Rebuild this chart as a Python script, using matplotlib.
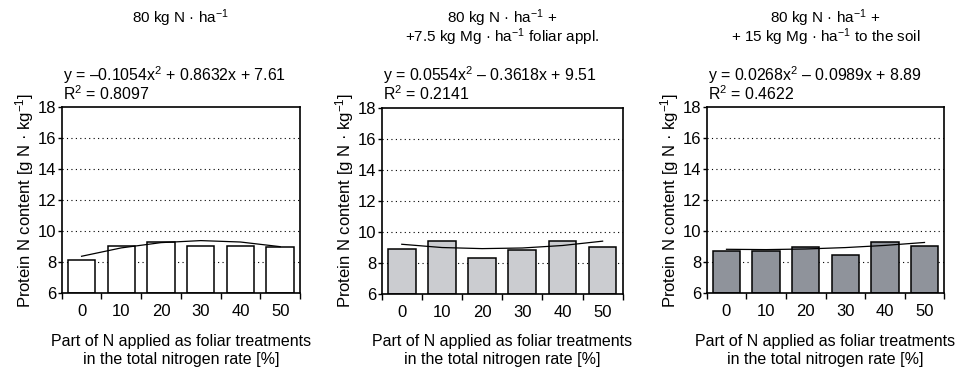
import matplotlib
matplotlib.use('Agg')
import matplotlib.pyplot as plt

plt.rcParams['font.family'] = ['Liberation Sans', 'DejaVu Sans']
plt.rcParams['font.size'] = 11
plt.rcParams['mathtext.fontset'] = 'custom'
plt.rcParams['mathtext.rm'] = 'Liberation Sans'
plt.rcParams['mathtext.it'] = 'Liberation Sans:italic'
plt.rcParams['mathtext.default'] = 'regular'

foliar_share = ['0', '10', '20', '30', '40', '50']

# bar heights
protein_n_only = [8.13, 9.05, 9.31, 9.03, 9.03, 8.94]
protein_mg_foliar = [8.92, 9.40, 8.34, 8.82, 9.40, 9.03]
protein_mg_soil = [8.71, 8.71, 8.94, 8.45, 9.31, 9.05]

# polynomial trend lines (values at each category)
trend_n_only = [8.37, 8.91, 9.25, 9.38, 9.29, 8.99]
trend_mg_foliar = [9.20, 8.99, 8.92, 8.96, 9.12, 9.40]
trend_mg_soil = [8.82, 8.80, 8.84, 8.93, 9.07, 9.26]

titles = [['80 kg N · ha$^{-1}$'],
          ['80 kg N · ha$^{-1}$ +', '+7.5 kg Mg · ha$^{-1}$ foliar appl.'],
          ['80 kg N · ha$^{-1}$ +', '+ 15 kg Mg · ha$^{-1}$ to the soil']]
equations = [['y = –0.1054x$^{2}$ + 0.8632x + 7.61', 'R$^{2}$ = 0.8097'],
             ['y = 0.0554x$^{2}$ – 0.3618x + 9.51', 'R$^{2}$ = 0.2141'],
             ['y = 0.0268x$^{2}$ – 0.0989x + 8.89', 'R$^{2}$ = 0.4622']]
xlabel_lines = ['Part of N applied as foliar treatments', 'in the total nitrogen rate [%]']
bar_colors = ['white', '#cbccd0', '#8f939b']

W, H = 959, 369
fig = plt.figure(figsize=(W / 100, H / 100), dpi=100)

# axes boxes in pixels: left, top, right, bottom
boxes = [(61.7, 107, 300, 293), (381.7, 107.5, 622.7, 294), (706.7, 107, 944.3, 293)]
series = [(protein_n_only, trend_n_only),
          (protein_mg_foliar, trend_mg_foliar),
          (protein_mg_soil, trend_mg_soil)]

x = list(range(len(foliar_share)))


def px_text(px, py, s, **kw):
    fig.text(px / W, 1 - py / H, s, va='baseline', **kw)


for i, (l, t, r, b) in enumerate(boxes):
    ax = fig.add_axes([l / W, 1 - b / H, (r - l) / W, (b - t) / H])
    bars, trend = series[i]
    ax.bar(x, [v - 6 for v in bars], bottom=6, width=0.69, color=bar_colors[i],
           edgecolor='black', linewidth=1.1, zorder=2)
    ax.plot(x, trend, color='black', linewidth=0.9, zorder=3)

    ax.set_xlim(-0.5, 5.5)
    ax.set_ylim(6, 18)
    ax.set_yticks(range(6, 19, 2))
    for g in range(8, 18, 2):
        ax.axhline(g, color='black', linestyle=(0, (1, 3)), linewidth=0.8, zorder=1)

    ax.set_xticks(x, foliar_share)
    ax.set_xticks([k + 0.5 for k in range(-1, 6)], minor=True)
    ax.tick_params(axis='x', which='major', length=0, pad=8, labelsize=12)
    ax.tick_params(axis='x', which='minor', length=4, width=1, direction='out')
    ax.tick_params(axis='y', length=3, width=1, direction='out', pad=1, labelsize=12)
    for s in ax.spines.values():
        s.set_linewidth(1.2)

    ax.set_ylabel('Protein N content [g N · kg$^{-1}$]', fontsize=12, labelpad=1)

    cx = (l + r) / 2
    for k, line in enumerate(titles[i]):
        px_text(cx, 23 + 19.5 * k, line, ha='center', fontsize=11)
    for k, line in enumerate(equations[i]):
        px_text(l + 1, 80.5 + 19.5 * k, line, ha='left', fontsize=11.4)
    for k, line in enumerate(xlabel_lines):
        px_text(cx, 346 + 18 * k, line, ha='center', fontsize=11.5)

fig.savefig('out.png', dpi=100)
